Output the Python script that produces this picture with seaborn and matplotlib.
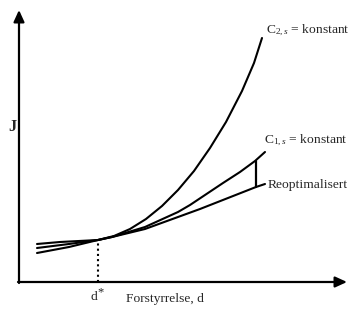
import matplotlib
matplotlib.use("Agg")
import matplotlib.pyplot as plt
import seaborn as sns
import pandas as pd

# Data (x = disturbance d, y = cost J)
c2_x = [18, 41, 79, 95, 111, 127, 143, 159, 175, 191, 207, 223, 235, 243]
c2_y = [38, 40, 42, 46, 53, 63, 76, 92, 111, 134, 160, 191, 219, 244]
c1_x = [18, 50, 79, 93, 126, 159, 171, 204, 221, 236, 246]
c1_y = [34, 38, 42, 45, 55, 70, 77, 99, 110, 121, 130]
re_x = [18, 50, 79, 93, 126, 159, 181, 237, 246]
re_y = [29, 35, 42, 45, 53, 65, 73, 95, 98]
d_star = 79
d_star_J = 42
gap_x = 237
gap_y = [95, 121]

labels = {"c2": r"C$_{2,s}$ = konstant", "c1": r"C$_{1,s}$ = konstant",
          "re": "Reoptimalisert"}

sns.set_style("white")
plt.rcParams["font.family"] = ["Liberation Serif", "DejaVu Serif"]
plt.rcParams["mathtext.fontset"] = "custom"
plt.rcParams["mathtext.rm"] = "Liberation Serif"
plt.rcParams["mathtext.it"] = "Liberation Serif:italic"

df = pd.concat([
    pd.DataFrame({"d": c2_x, "J": c2_y, "curve": "c2"}),
    pd.DataFrame({"d": c1_x, "J": c1_y, "curve": "c1"}),
    pd.DataFrame({"d": re_x, "J": re_y, "curve": "re"}),
])

fig = plt.figure(figsize=(3.64, 3.14), dpi=100)
ax = fig.add_axes([0, 0, 1, 1])
ax.set_xlim(-19, 345)
ax.set_ylim(-32, 282)
ax.axis("off")

sns.lineplot(data=df, x="d", y="J", hue="curve", units="curve",
             estimator=None, sort=False, palette=["black"] * 3,
             linewidth=1.5, legend=False, ax=ax)

# vertical gap marker
ax.plot([gap_x, gap_x], gap_y, color="black", lw=1.6)
# dotted line at d*
ax.plot([d_star, d_star], [0, d_star_J], color="black", lw=1.5,
        linestyle=(0, (1, 1.5)))

# axes with arrows
arrow = dict(arrowstyle="-|>,head_length=0.7,head_width=0.32", lw=1.6,
             color="black", mutation_scale=10, shrinkA=0, shrinkB=0)
ax.annotate("", xy=(0, 272), xytext=(0, -1), arrowprops=arrow)
ax.annotate("", xy=(328, 0), xytext=(-1, 0), arrowprops=arrow)

fs = 9.7
ax.text(-7, 155, "J", fontsize=12, fontweight="bold", ha="center", va="center")
ax.text(78, -15, "d", fontsize=fs, ha="right", va="center")
ax.text(78, -10, "*", fontsize=9, ha="left", va="center")
ax.text(107, -17, "Forstyrrelse, d", fontsize=fs, ha="left", va="center")
ax.text(247, 252, labels["c2"], fontsize=fs, ha="left", va="center")
ax.text(245, 142, labels["c1"], fontsize=fs, ha="left", va="center")
ax.text(249, 97, labels["re"], fontsize=fs, ha="left", va="center")

fig.savefig("out.png", dpi=100)
